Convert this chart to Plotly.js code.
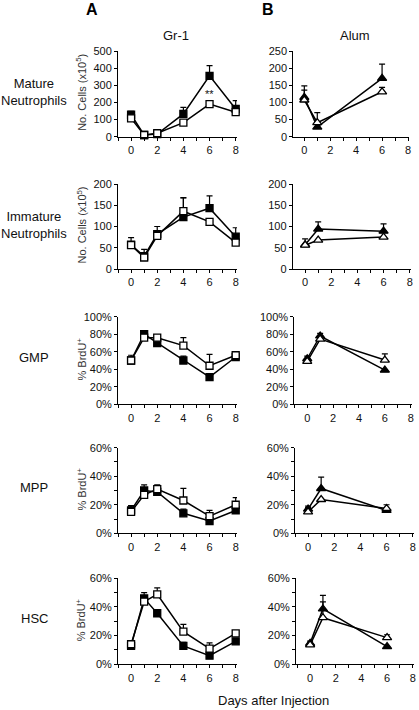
<!DOCTYPE html>
<html>
<head>
<meta charset="utf-8">
<script src="https://cdn.plot.ly/plotly-3.0.1.min.js"></script>
<style>
html,body{margin:0;padding:0;background:#fff;}
#chart{width:419px;height:710px;}
</style>
</head>
<body>
<div id="chart"></div>
<script>
// ---- data ----
const daysGr = [0, 1, 2, 4, 6, 8];
const daysAlum = [0, 1, 6];

// Mature Neutrophils (No. cells x10^5)
const matGrFilled = [128, 10, 15, 133, 355, 162];
const matGrFilledErr = [20, 0, 0, 38, 60, 48];
const matGrOpen = [107, 10, 20, 82, 190, 143];
const matGrOpenErr = [0, 0, 0, 0, 0, 0];
const matAlumFilled = [115, 28, 170];
const matAlumFilledErr = [33, 0, 42];
const matAlumOpen = [107, 41, 131];
const matAlumOpenErr = [29, 29, 13];

// Immature Neutrophils
const immGrFilled = [57, 30, 82, 122, 143, 76];
const immGrFilledErr = [17, 0, 18, 45, 29, 21];
const immGrOpen = [56, 27, 78, 136, 111, 62];
const immGrOpenErr = [0, 19, 0, 32, 0, 0];
const immAlumFilled = [57, 94, 89];
const immAlumFilledErr = [0, 17, 17];
const immAlumOpen = [56, 68, 75];
const immAlumOpenErr = [15, 0, 0];

// GMP (% BrdU+)
const gmpGrFilled = [50, 80, 70, 50, 31, 54];
const gmpGrFilledErr = [0, 2, 0, 5, 4, 0];
const gmpGrOpen = [50, 76, 76, 67, 44, 56];
const gmpGrOpenErr = [6, 0, 0, 9, 13, 0];
const gmpAlumFilled = [52, 78, 39];
const gmpAlumFilledErr = [3, 3, 0];
const gmpAlumOpen = [49, 74.5, 50.5];
const gmpAlumOpenErr = [3, 0, 7];

// MPP (% BrdU+)
const mppGrFilled = [16, 30, 29, 14, 8.6, 16];
const mppGrFilledErr = [3.5, 4, 0, 3, 0, 0];
const mppGrOpen = [15, 27, 31, 23, 12, 20];
const mppGrOpenErr = [4, 0, 3, 8.5, 4, 5];
const mppAlumFilled = [17, 31.4, 16];
const mppAlumFilledErr = [2, 8, 0];
const mppAlumOpen = [15, 23.7, 17.4];
const mppAlumOpenErr = [3, 0, 2.6];

// HSC (% BrdU+)
const hscGrFilled = [12.8, 46, 35.6, 12.8, 6, 16];
const hscGrFilledErr = [0, 4, 0, 2.5, 0, 0];
const hscGrOpen = [14, 43.7, 48.8, 22.8, 11, 21.6];
const hscGrOpenErr = [0, 0, 4.5, 5, 4, 0];
const hscAlumFilled = [14.6, 38.6, 12.3];
const hscAlumFilledErr = [1.5, 9.5, 0];
const hscAlumOpen = [13.5, 32.5, 18.6];
const hscAlumOpenErr = [0, 11, 2];

// text
const rowLabels = ['Mature<br>Neutrophils', 'Immature<br>Neutrophils', 'GMP', 'MPP', 'HSC'];
const yTitles = ['No. Cells (x10<sup>5</sup>)', 'No. Cells (x10<sup>5</sup>)', '% BrdU<sup>+</sup>', '% BrdU<sup>+</sup>', '% BrdU<sup>+</sup>'];
const colTitles = ['Gr-1', 'Alum'];
const panelLetters = ['A', 'B'];
const xTitle = 'Days after Injection';

// ---- layout geometry (pixels) ----
const W = 419, H = 710;
const FONT = 'Liberation Sans, Arial, Helvetica, sans-serif';
const rows = [
  {top: 51,    bottom: 136.7, grF: matGrFilled, grFE: matGrFilledErr, grO: matGrOpen, grOE: matGrOpenErr,
   alF: matAlumFilled, alFE: matAlumFilledErr, alO: matAlumOpen, alOE: matAlumOpenErr,
   yA: [0, 500], dA: 100, yB: [0, 250], dB: 50, suffix: '', minor: null, bDom: [293.3, 409.3], bRange: [-0.85, 8.1]},
  {top: 184,   bottom: 269,   grF: immGrFilled, grFE: immGrFilledErr, grO: immGrOpen, grOE: immGrOpenErr,
   alF: immAlumFilled, alFE: immAlumFilledErr, alO: immAlumOpen, alOE: immAlumOpenErr,
   yA: [0, 200], dA: 50, yB: [0, 200], dB: 50, suffix: '', minor: null, bDom: [292.7, 411], bRange: [-0.95, 8.1]},
  {top: 316.7, bottom: 404.3, grF: gmpGrFilled, grFE: gmpGrFilledErr, grO: gmpGrOpen, grOE: gmpGrOpenErr,
   alF: gmpAlumFilled, alFE: gmpAlumFilledErr, alO: gmpAlumOpen, alOE: gmpAlumOpenErr,
   yA: [0, 100], dA: 20, yB: [0, 100], dB: 20, suffix: '%', minor: null, bDom: [294.3, 412], bRange: [-1.0, 8.1]},
  {top: 447.7, bottom: 533.3, grF: mppGrFilled, grFE: mppGrFilledErr, grO: mppGrOpen, grOE: mppGrOpenErr,
   alF: mppAlumFilled, alFE: mppAlumFilledErr, alO: mppAlumOpen, alOE: mppAlumOpenErr,
   yA: [0, 60], dA: 20, yB: [0, 60], dB: 20, suffix: '%', minor: 10, bDom: [295, 414], bRange: [-1.0, 8.1]},
  {top: 578.3, bottom: 664.3, grF: hscGrFilled, grFE: hscGrFilledErr, grO: hscGrOpen, grOE: hscGrOpenErr,
   alF: hscAlumFilled, alFE: hscAlumFilledErr, alO: hscAlumOpen, alOE: hscAlumOpenErr,
   yA: [0, 60], dA: 20, yB: [0, 60], dB: 20, suffix: '%', minor: 10, bDom: [296, 414], bRange: [-1.1, 8.1]}
];
const aDom = [118, 237], aRange = [-1.0, 8.1];

const px = v => v / W;
const py = v => 1 - v / H;

const traces = [];
const layout = {
  width: W, height: H,
  margin: {l: 0, r: 0, t: 0, b: 0},
  paper_bgcolor: '#fff', plot_bgcolor: 'rgba(0,0,0,0)',
  showlegend: false,
  font: {family: FONT, size: 11, color: '#111'},
  annotations: []
};

function errObj(arr) {
  return {type: 'data', symmetric: false, array: arr, arrayminus: arr.map(() => 0),
          color: '#000', thickness: 1.2, width: 3};
}
function addSeries(x, y, err, xa, ya, symbol, filled) {
  traces.push({
    x: x, y: y, xaxis: xa, yaxis: ya, type: 'scatter', mode: 'lines+markers',
    cliponaxis: false,
    line: {color: '#000', width: 1.5},
    marker: {symbol: symbol, size: symbol.startsWith('triangle') ? 8 : 7,
             color: filled ? '#000' : '#fff', line: {color: '#000', width: 1.3}},
    error_y: errObj(err)
  });
}
function axisBase() {
  return {showline: true, linecolor: '#000', linewidth: 1, showgrid: false, zeroline: false,
          ticks: 'outside', ticklen: 3, tickwidth: 1, tickcolor: '#000',
          tickfont: {family: FONT, size: 11, color: '#111'}, fixedrange: true};
}

rows.forEach((r, i) => {
  const ia = 2 * i + 1, ib = 2 * i + 2;
  const xaA = 'x' + ia, yaA = 'y' + ia, xaB = 'x' + ib, yaB = 'y' + ib;
  const yDom = [py(r.bottom), py(r.top)];

  // panel A: Gr-1
  const xA = Object.assign(axisBase(), {domain: [px(aDom[0]), px(aDom[1])], range: aRange,
    tickmode: 'linear', tick0: 0, dtick: 2, anchor: yaA,
    minor: {dtick: 1, tick0: 0, ticks: 'outside', ticklen: 3, tickcolor: '#000'}});
  const yA = Object.assign(axisBase(), {domain: yDom, range: r.yA, tickmode: 'linear', tick0: 0, dtick: r.dA,
    ticksuffix: r.suffix, anchor: xaA});
  // panel B: Alum
  const xB = Object.assign(axisBase(), {domain: [px(r.bDom[0]), px(r.bDom[1])], range: r.bRange,
    tickmode: 'linear', tick0: 0, dtick: 2, anchor: yaB,
    minor: {dtick: 1, tick0: 0, ticks: 'outside', ticklen: 3, tickcolor: '#000'}});
  const yB = Object.assign(axisBase(), {domain: yDom, range: r.yB, tickmode: 'linear', tick0: 0, dtick: r.dB,
    ticksuffix: r.suffix, anchor: xaB});
  if (r.minor) {
    yA.minor = {dtick: r.minor, tick0: 0, ticks: 'outside', ticklen: 3, tickcolor: '#000'};
    yB.minor = {dtick: r.minor, tick0: 0, ticks: 'outside', ticklen: 3, tickcolor: '#000'};
  }
  const sfx = i === 0 ? '' : String(ia);
  const sfxB = String(ib);
  layout['xaxis' + sfx] = xA;
  layout['yaxis' + sfx] = yA;
  layout['xaxis' + sfxB] = xB;
  layout['yaxis' + sfxB] = yB;

  const refA = i === 0 ? 'x' : xaA, refYA = i === 0 ? 'y' : yaA;
  addSeries(daysGr, r.grF, r.grFE, refA, refYA, 'square', true);
  addSeries(daysGr, r.grO, r.grOE, refA, refYA, 'square', false);
  addSeries(daysAlum, r.alF, r.alFE, xaB, yaB, 'triangle-up', true);
  addSeries(daysAlum, r.alO, r.alOE, xaB, yaB, 'triangle-up', false);

  const midY = (r.top + r.bottom) / 2;
  // row label
  layout.annotations.push({xref: 'paper', yref: 'paper', x: px(34), y: py(midY - (i < 2 ? 2 : 3)),
    text: rowLabels[i], showarrow: false, xanchor: 'center', yanchor: 'middle',
    font: {family: FONT, size: 13, color: '#111'}, align: 'center'});
  // y title
  layout.annotations.push({xref: 'paper', yref: 'paper', x: px(81), y: py(midY - 1),
    text: yTitles[i], showarrow: false, textangle: -90, xanchor: 'center', yanchor: 'middle',
    font: {family: FONT, size: 11, color: '#333'}});
});

// significance marker
layout.annotations.push({xref: 'x', yref: 'y', x: 6, y: 190, text: '**', showarrow: false,
  yanchor: 'bottom', yshift: 2, font: {family: FONT, size: 11, color: '#111'}});

// column titles and panel letters
layout.annotations.push({xref: 'paper', yref: 'paper', x: px(176), y: py(35), text: colTitles[0],
  showarrow: false, xanchor: 'center', yanchor: 'middle', font: {family: FONT, size: 13, color: '#111'}});
layout.annotations.push({xref: 'paper', yref: 'paper', x: px(355), y: py(35), text: colTitles[1],
  showarrow: false, xanchor: 'center', yanchor: 'middle', font: {family: FONT, size: 13, color: '#111'}});
layout.annotations.push({xref: 'paper', yref: 'paper', x: px(92), y: py(10), text: '<b>' + panelLetters[0] + '</b>',
  showarrow: false, xanchor: 'center', yanchor: 'middle', font: {family: FONT, size: 16, color: '#000'}});
layout.annotations.push({xref: 'paper', yref: 'paper', x: px(268), y: py(10), text: '<b>' + panelLetters[1] + '</b>',
  showarrow: false, xanchor: 'center', yanchor: 'middle', font: {family: FONT, size: 16, color: '#000'}});
// x title
layout.annotations.push({xref: 'paper', yref: 'paper', x: px(273), y: py(700), text: xTitle,
  showarrow: false, xanchor: 'center', yanchor: 'middle', font: {family: FONT, size: 13, color: '#111'}});

Plotly.newPlot('chart', traces, layout, {staticPlot: true, displayModeBar: false});
</script>
</body>
</html>
